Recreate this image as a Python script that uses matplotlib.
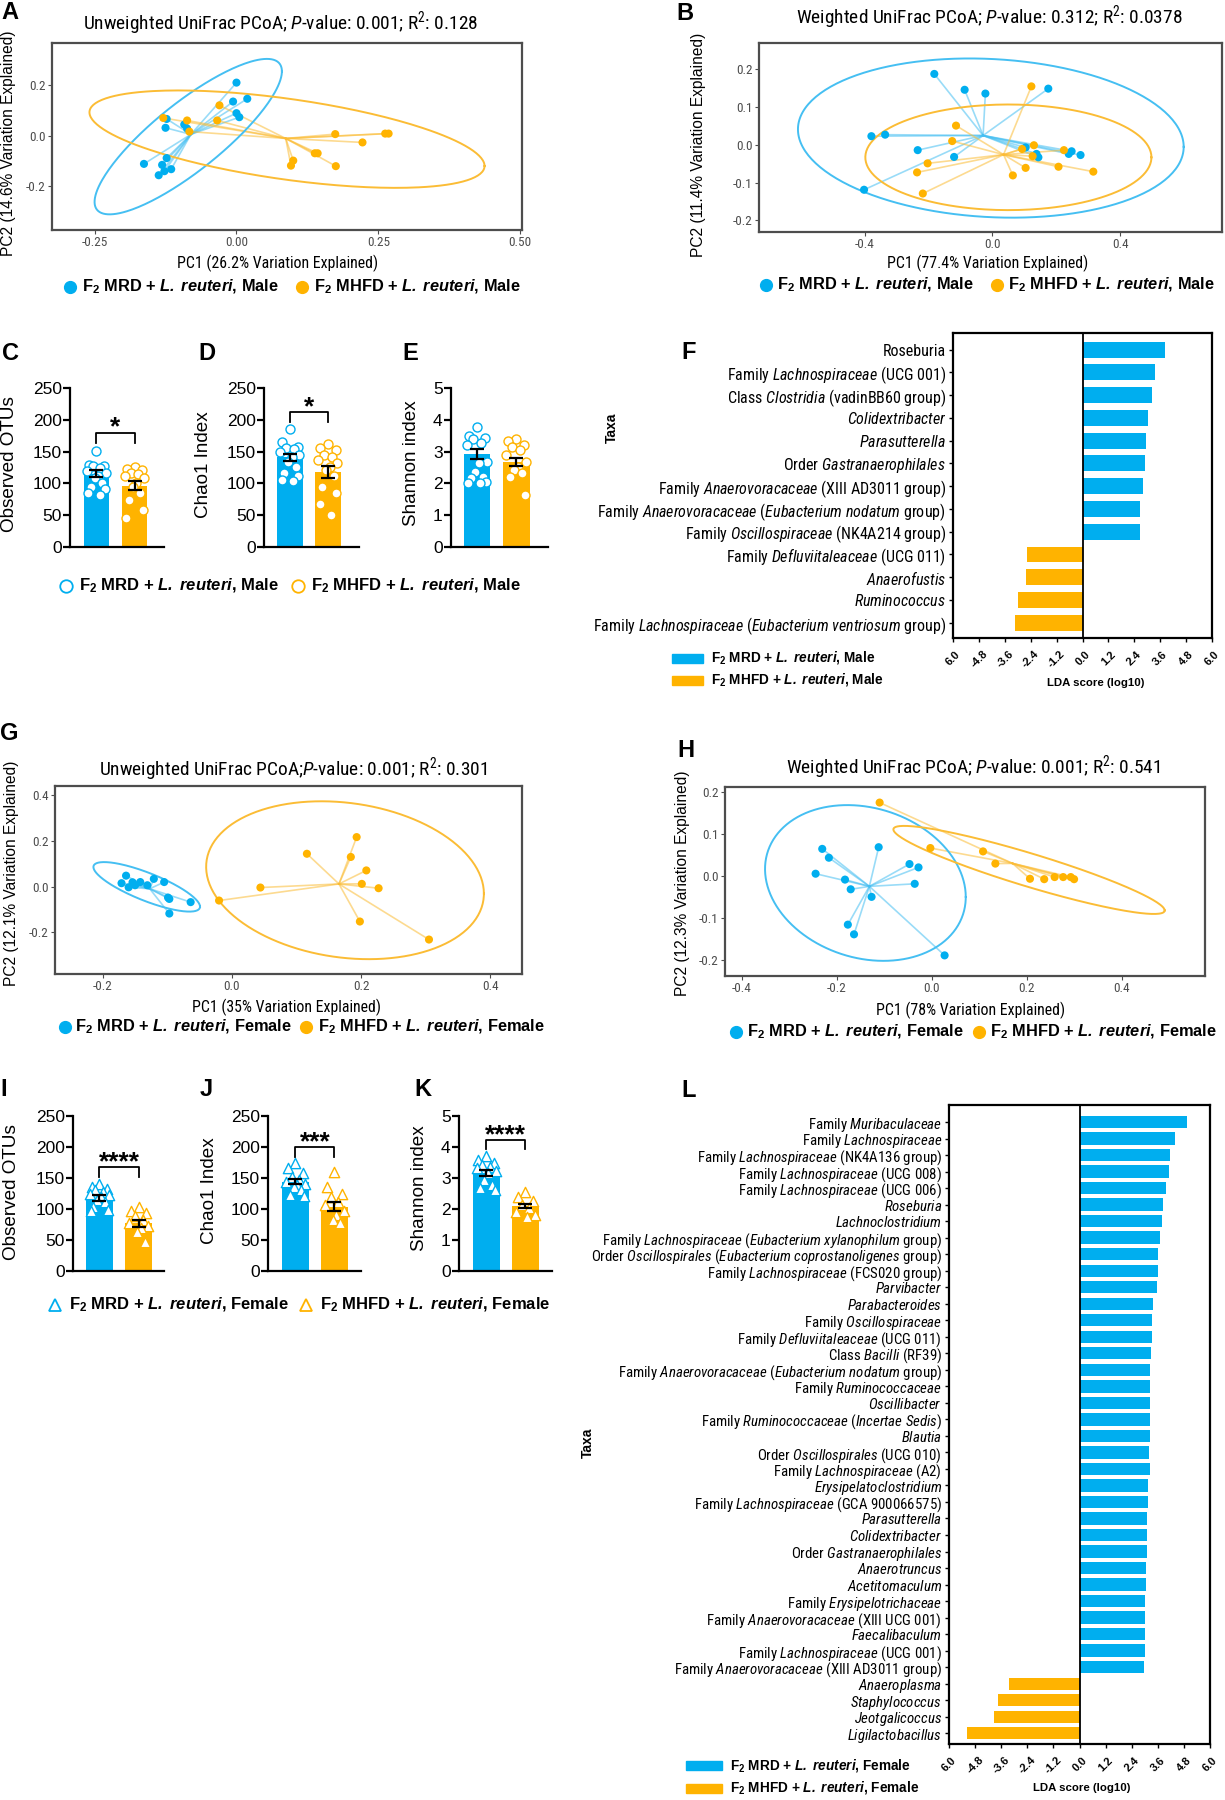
import numpy as np
import matplotlib.pyplot as plt
from matplotlib import font_manager
from matplotlib.patches import Rectangle
from matplotlib.ticker import FormatStrFormatter

W, H = 1225, 1800

# narrow font for ggplot / LEfSe texts, fall back to regular if missing
names = {f.name for f in font_manager.fontManager.ttflist}
if 'Liberation Sans Narrow' in names:
    NF, K = 'Liberation Sans Narrow', 1.0
elif 'Roboto Condensed' in names:
    NF, K = 'Roboto Condensed', 0.95
else:
    NF, K = 'Liberation Sans', 0.82

plt.rcParams['font.family'] = 'Liberation Sans'
plt.rcParams['axes.unicode_minus'] = False
plt.rcParams['mathtext.fontset'] = 'custom'
plt.rcParams['mathtext.rm'] = NF
plt.rcParams['mathtext.it'] = NF + ':italic'
plt.rcParams['mathtext.bf'] = 'Liberation Sans:italic:bold'
plt.rcParams['mathtext.sf'] = 'Liberation Sans:bold'

BLUE = '#00AEEF'
ORANGE = '#FFB300'
BLUE_L = '#45BFF2'
ORANGE_L = '#FBBC35'

# ---------------- PCoA data (PC1, PC2) ----------------
a_blue_x = [0.0, -0.006, 0.019, 0.0, 0.005, -0.123, -0.125, -0.092, -0.087, -0.123, -0.163, -0.131, -0.115, -0.127, -0.137]
a_blue_y = [0.211, 0.136, 0.147, 0.090, 0.074, 0.067, 0.032, 0.045, 0.029, -0.088, -0.111, -0.115, -0.132, -0.140, -0.156]
a_orange_x = [-0.030, -0.087, -0.034, -0.129, -0.083, 0.174, 0.262, 0.268, 0.222, 0.138, 0.143, 0.100, 0.096, 0.175]
a_orange_y = [0.121, 0.061, 0.061, 0.071, 0.017, 0.007, 0.009, 0.009, -0.026, -0.069, -0.069, -0.098, -0.118, -0.120]

b_blue_x = [-0.182, -0.087, -0.022, 0.175, -0.379, -0.336, -0.234, -0.120, 0.104, 0.138, 0.144, 0.239, 0.248, 0.276, -0.402]
b_blue_y = [0.188, 0.146, 0.136, 0.149, 0.023, 0.027, -0.014, -0.032, -0.007, -0.024, -0.033, -0.024, -0.017, -0.027, -0.119]
b_orange_x = [0.122, -0.114, -0.126, 0.093, 0.130, 0.126, 0.224, -0.203, -0.236, 0.064, 0.104, 0.207, 0.316, -0.218]
b_orange_y = [0.155, 0.051, 0.010, -0.011, -0.001, -0.030, -0.014, -0.049, -0.073, -0.081, -0.061, -0.058, -0.071, -0.129]

g_blue_x = [-0.164, -0.171, -0.154, -0.160, -0.150, -0.142, -0.131, -0.121, -0.105, -0.099, -0.097, -0.064, -0.097]
g_blue_y = [0.048, 0.015, 0.019, -0.003, 0.006, 0.020, 0.006, 0.034, 0.020, -0.048, -0.054, -0.068, -0.118]
g_orange_x = [0.193, 0.116, 0.184, 0.208, 0.201, 0.227, 0.044, -0.020, 0.198, 0.305]
g_orange_y = [0.217, 0.144, 0.130, 0.071, 0.012, -0.007, -0.004, -0.061, -0.153, -0.232]

h_blue_x = [-0.231, -0.217, -0.245, -0.183, -0.171, -0.112, -0.127, -0.047, -0.028, -0.036, -0.177, -0.164, 0.027]
h_blue_y = [0.065, 0.044, 0.006, -0.008, -0.031, 0.069, -0.049, 0.029, 0.021, -0.018, -0.115, -0.138, -0.188]
h_orange_x = [-0.110, -0.003, 0.108, 0.134, 0.207, 0.237, 0.259, 0.277, 0.293, 0.300]
h_orange_y = [0.175, 0.067, 0.059, 0.030, -0.006, -0.007, -0.002, -0.002, -0.002, -0.007]

# ellipses: centre x, centre y, x half-extent, y half-extent, correlation
a_ell = [(-0.085, -0.003, 0.165, 0.308, 0.84), (0.089, -0.013, 0.348, 0.193, -0.55)]
b_ell = [(-0.005, 0.018, 0.604, 0.211, -0.11), (0.050, -0.033, 0.448, 0.140, 0.0)]
g_ell = [(-0.132, -0.001, 0.0825, 0.1085, -0.80), (0.175, 0.028, 0.215, 0.346, -0.17)]
h_ell = [(-0.140, -0.016, 0.2116, 0.185, -0.18), (0.205, 0.015, 0.286, 0.1046, -0.92)]

# ---------------- alpha diversity data ----------------
c_blue = [151, 129, 128, 127, 125, 120, 116, 111, 108, 100, 95, 91, 84, 82]
c_orange = [126, 122, 121, 117, 115, 111, 108, 100, 95, 84, 74, 58, 45]
c_mean, c_sem = [115, 96], [5.5, 7]
d_blue = [185, 166, 158, 155, 154, 150, 145, 142, 134, 126, 116, 111, 105, 103]
d_orange = [162, 155, 153, 145, 142, 137, 132, 126, 121, 111, 95, 84, 68, 50]
d_mean, d_sem = [141, 118], [6, 9]
e_blue = [3.79, 3.49, 3.44, 3.39, 3.26, 3.21, 2.68, 2.63, 2.37, 2.21, 2.16, 2.05, 2.02, 2.00]
e_orange = [3.39, 3.34, 3.21, 3.16, 3.05, 2.89, 2.68, 2.53, 2.42, 2.32, 2.21, 1.63]
e_mean, e_sem = [2.93, 2.68], [0.15, 0.13]
i_blue = [141, 136, 133, 131, 128, 125, 123, 120, 115, 112, 104, 98, 96]
i_orange = [104, 96, 93, 88, 82, 77, 72, 69, 63, 47]
i_mean, i_sem = [118, 77], [4.5, 5.5]
j_blue = [174, 166, 158, 152, 147, 144, 141, 139, 136, 131, 123, 121]
j_orange = [160, 136, 125, 120, 112, 106, 96, 90, 82, 78]
j_mean, j_sem = [144, 104], [4, 7.5]
k_blue = [3.71, 3.58, 3.49, 3.42, 3.37, 3.31, 3.24, 3.15, 2.94, 2.77, 2.67, 2.61]
k_orange = [2.56, 2.40, 2.27, 2.13, 2.02, 1.91, 1.81, 1.75]
k_mean, k_sem = [3.17, 2.10], [0.09, 0.07]

# ---------------- LEfSe data ----------------
f_labels = [
    "Roseburia",
    r"Family $\mathit{Lachnospiraceae}$ (UCG 001)",
    r"Class $\mathit{Clostridia}$ (vadinBB60 group)",
    r"$\mathit{Colidextribacter}$",
    r"$\mathit{Parasutterella}$",
    r"Order $\mathit{Gastranaerophilales}$",
    r"Family $\mathit{Anaerovoracaceae}$ (XIII AD3011 group)",
    r"Family $\mathit{Anaerovoracaceae}$ ($\mathit{Eubacterium}$ $\mathit{nodatum}$ group)",
    r"Family $\mathit{Oscillospiraceae}$ (NK4A214 group)",
    r"Family $\mathit{Defluviitaleaceae}$ (UCG 011)",
    r"$\mathit{Anaerofustis}$",
    r"$\mathit{Ruminococcus}$",
    r"Family $\mathit{Lachnospiraceae}$ ($\mathit{Eubacterium}$ $\mathit{ventriosum}$ group)",
]
f_scores = [3.82, 3.37, 3.23, 3.05, 2.92, 2.88, 2.82, 2.67, 2.65, -2.58, -2.61, -3.01, -3.14]

l_labels = [
    r"Family $\mathit{Muribaculaceae}$",
    r"Family $\mathit{Lachnospiraceae}$",
    r"Family $\mathit{Lachnospiraceae}$ (NK4A136 group)",
    r"Family $\mathit{Lachnospiraceae}$ (UCG 008)",
    r"Family $\mathit{Lachnospiraceae}$ (UCG 006)",
    r"$\mathit{Roseburia}$",
    r"$\mathit{Lachnoclostridium}$",
    r"Family $\mathit{Lachnospiraceae}$ ($\mathit{Eubacterium}$ $\mathit{xylanophilum}$ group)",
    r"Order $\mathit{Oscillospirales}$ ($\mathit{Eubacterium}$ $\mathit{coprostanoligenes}$ group)",
    r"Family $\mathit{Lachnospiraceae}$ (FCS020 group)",
    r"$\mathit{Parvibacter}$",
    r"$\mathit{Parabacteroides}$",
    r"Family $\mathit{Oscillospiraceae}$",
    r"Family $\mathit{Defluviitaleaceae}$ (UCG 011)",
    r"Class $\mathit{Bacilli}$ (RF39)",
    r"Family $\mathit{Anaerovoracaceae}$ ($\mathit{Eubacterium}$ $\mathit{nodatum}$ group)",
    r"Family $\mathit{Ruminococcaceae}$",
    r"$\mathit{Oscillibacter}$",
    r"Family $\mathit{Ruminococcaceae}$ ($\mathit{Incertae}$ $\mathit{Sedis}$)",
    r"$\mathit{Blautia}$",
    r"Order $\mathit{Oscillospirales}$ (UCG 010)",
    r"Family $\mathit{Lachnospiraceae}$ (A2)",
    r"$\mathit{Erysipelatoclostridium}$",
    r"Family $\mathit{Lachnospiraceae}$ (GCA 900066575)",
    r"$\mathit{Parasutterella}$",
    r"$\mathit{Colidextribacter}$",
    r"Order $\mathit{Gastranaerophilales}$",
    r"$\mathit{Anaerotruncus}$",
    r"$\mathit{Acetitomaculum}$",
    r"Family $\mathit{Erysipelotrichaceae}$",
    r"Family $\mathit{Anaerovoracaceae}$ (XIII UCG 001)",
    r"$\mathit{Faecalibaculum}$",
    r"Family $\mathit{Lachnospiraceae}$ (UCG 001)",
    r"Family $\mathit{Anaerovoracaceae}$ (XIII AD3011 group)",
    r"$\mathit{Anaeroplasma}$",
    r"$\mathit{Staphylococcus}$",
    r"$\mathit{Jeotgalicoccus}$",
    r"$\mathit{Ligilactobacillus}$",
]
l_scores = [4.94, 4.37, 4.16, 4.10, 3.98, 3.86, 3.80, 3.71, 3.63, 3.61, 3.57, 3.38, 3.34, 3.32,
            3.28, 3.26, 3.26, 3.24, 3.24, 3.22, 3.20, 3.22, 3.16, 3.14, 3.12, 3.10, 3.10, 3.06,
            3.06, 3.02, 3.02, 3.00, 2.99, 2.95, -3.22, -3.73, -3.92, -5.19]
lda_ticks = [-6.0, -4.8, -3.6, -2.4, -1.2, 0.0, 1.2, 2.4, 3.6, 4.8, 6.0]
lda_ticklabels = ['6.0', '-4.8', '-3.6', '-2.4', '-1.2', '0.0', '1.2', '2.4', '3.6', '4.8', '6.0']

MRD_M = r"$\mathsf{F_2}$ MRD + $\mathbf{L.}$ $\mathbf{reuteri}$, Male"
MHFD_M = r"$\mathsf{F_2}$ MHFD + $\mathbf{L.}$ $\mathbf{reuteri}$, Male"
MRD_F = r"$\mathsf{F_2}$ MRD + $\mathbf{L.}$ $\mathbf{reuteri}$, Female"
MHFD_F = r"$\mathsf{F_2}$ MHFD + $\mathbf{L.}$ $\mathbf{reuteri}$, Female"

fig = plt.figure(figsize=(W / 100, H / 100), dpi=100)


def add_ax(x0, y0, x1, y1):
    return fig.add_axes([x0 / W, 1 - y1 / H, (x1 - x0) / W, (y1 - y0) / H])


def pcoa(box, xlim, ylim, xticks, yticks, fmt, bx, by, ox, oy, ells):
    ax = add_ax(*box)
    t = np.linspace(0, 2 * np.pi, 240)
    for xs, ys, ell, lcol in [(bx, by, ells[0], BLUE_L), (ox, oy, ells[1], ORANGE_L)]:
        xs, ys = np.asarray(xs), np.asarray(ys)
        cx, cy = xs.mean(), ys.mean()
        for x, y in zip(xs, ys):
            ax.plot([cx, x], [cy, y], color=lcol, lw=1.2, alpha=0.55, zorder=1)
        ex, ey, rx, ry, rho = ell
        ax.plot(ex + rx * np.cos(t),
                ey + ry * (rho * np.cos(t) + np.sqrt(1 - rho ** 2) * np.sin(t)),
                color=lcol, lw=1.4, zorder=2)
    ax.scatter(bx, by, s=34, color=BLUE, edgecolors='none', zorder=3)
    ax.scatter(ox, oy, s=34, color=ORANGE, edgecolors='none', zorder=3)
    ax.set_xlim(xlim)
    ax.set_ylim(ylim)
    ax.set_xticks(xticks)
    ax.set_yticks(yticks)
    ax.xaxis.set_major_formatter(FormatStrFormatter(fmt))
    ax.yaxis.set_major_formatter(FormatStrFormatter('%.1f'))
    for s in ax.spines.values():
        s.set_color('#4d4d4d')
        s.set_linewidth(1.6)
    ax.tick_params(length=3, width=0.8, color='#4d4d4d', labelcolor='#4d4d4d',
                   labelsize=10 * K, pad=1.5)
    for lab in ax.get_xticklabels() + ax.get_yticklabels():
        lab.set_family(NF)
    return ax


def bar_panel(box, xlim, vb, vo, means, sems, ytop, ystep, marker, msize, sig, sig_y, drop):
    ax = add_ax(*box)
    ax.bar([0, 1], means, width=0.68, color=[BLUE, ORANGE], zorder=1)
    jit = np.array([0.0, -0.2, 0.2, -0.1, 0.1, -0.25, 0.25, 0.05, -0.05, 0.15, -0.15, 0.22, -0.22, 0.08])
    ax.scatter(0 + jit[:len(vb)], vb, s=msize, marker=marker, facecolors='white',
               edgecolors=BLUE, linewidths=1.0, zorder=2, clip_on=False)
    ax.scatter(1 + jit[:len(vo)], vo, s=msize, marker=marker, facecolors='white',
               edgecolors=ORANGE, linewidths=1.0, zorder=2, clip_on=False)
    ax.errorbar([0, 1], means, yerr=sems, fmt='none', ecolor='black', elinewidth=1.6,
                capsize=5, capthick=1.6, zorder=4)
    if sig:
        ax.plot([0, 0, 1, 1], [sig_y - drop, sig_y, sig_y, sig_y - drop], color='black', lw=1.3)
        ax.annotate(sig, (0.5, sig_y), xytext=(0, -1.5), textcoords='offset points',
                    ha='center', va='baseline', fontsize=19, fontweight='bold')
    ax.set_xlim(xlim)
    ax.set_ylim(0, ytop)
    ax.set_yticks(np.arange(0, ytop + ystep / 2, ystep))
    ax.set_xticks([])
    for side in ['top', 'right']:
        ax.spines[side].set_visible(False)
    for side in ['left', 'bottom']:
        ax.spines[side].set_linewidth(1.6)
    ax.tick_params(axis='y', length=5, width=1.6, labelsize=12.5, pad=1)
    ax.patch.set_alpha(0)
    return ax


def lda_panel(box, labels, scores, fs, bar_h, pad_top, pad_bot):
    ax = add_ax(*box)
    n = len(scores)
    cols = [BLUE if s > 0 else ORANGE for s in scores]
    ax.barh(np.arange(n), scores, height=bar_h, color=cols, zorder=2)
    ax.axvline(0, color='black', lw=1.3, zorder=3)
    ax.set_xlim(-6, 6)
    ax.set_ylim(n - 1 + pad_bot, -pad_top)
    ax.set_yticks(np.arange(n))
    ax.set_yticklabels(labels, family=NF, fontsize=fs)
    ax.set_xticks(lda_ticks)
    ax.set_xticklabels(lda_ticklabels, rotation=45, ha='center', fontsize=8, fontweight='bold')
    ax.tick_params(axis='y', length=3, width=1.0, pad=2)
    ax.tick_params(axis='x', length=3, width=1.0, pad=5)
    for s in ax.spines.values():
        s.set_linewidth(1.6)
    return ax


# ---------------- panels ----------------
pcoa((52, 43, 522, 230), (-0.325, 0.503), (-0.373, 0.368), [-0.25, 0, 0.25, 0.5], [-0.2, 0, 0.2],
     '%.2f', a_blue_x, a_blue_y, a_orange_x, a_orange_y, a_ell)
pcoa((759, 43, 1222, 232), (-0.731, 0.719), (-0.231, 0.270), [-0.4, 0, 0.4],
     [-0.2, -0.1, 0, 0.1, 0.2], '%.1f', b_blue_x, b_blue_y, b_orange_x, b_orange_y, b_ell)
pcoa((55, 786, 522, 974), (-0.274, 0.449), (-0.383, 0.441), [-0.2, 0, 0.2, 0.4], [-0.2, 0, 0.2, 0.4],
     '%.1f', g_blue_x, g_blue_y, g_orange_x, g_orange_y, g_ell)
pcoa((725, 787, 1205, 976), (-0.436, 0.576), (-0.237, 0.212), [-0.4, -0.2, 0, 0.2, 0.4],
     [-0.2, -0.1, 0, 0.1, 0.2], '%.1f', h_blue_x, h_blue_y, h_orange_x, h_orange_y, h_ell)

bar_panel((70, 388.3, 164, 546.7), (-0.697, 1.776), c_blue, c_orange, c_mean, c_sem, 250, 50,
          'o', 42, '*', 180, 16)
bar_panel((264, 388.3, 359, 546.7), (-0.684, 1.816), d_blue, d_orange, d_mean, d_sem, 250, 50,
          'o', 42, '*', 213, 16)
bar_panel((451, 388.3, 548, 546.7), (-0.662, 1.806), e_blue, e_orange, e_mean, e_sem, 5, 1,
          'o', 42, None, 0, 0)
bar_panel((73, 1116, 164, 1271), (-0.672, 1.646), i_blue, i_orange, i_mean, i_sem, 250, 50,
          '^', 55, '****', 167, 15)
bar_panel((268, 1116, 361, 1271), (-0.705, 1.680), j_blue, j_orange, j_mean, j_sem, 250, 50,
          '^', 55, '***', 199.5, 15)
bar_panel((459, 1116, 552, 1271), (-0.698, 1.679), k_blue, k_orange, k_mean, k_sem, 5, 1,
          '^', 55, '****', 4.23, 0.3)

lda_panel((953, 333, 1212, 638), f_labels, f_scores, 12.1 * K, 0.70, 0.73, 0.67)
lda_panel((949, 1105, 1210, 1744), l_labels, l_scores, 11.3 * K, 0.75, 1.03, 0.65)

# ---------------- overlay: titles, labels, legends, letters ----------------
ov = fig.add_axes([0, 0, 1, 1], zorder=10)
ov.set_xlim(0, W)
ov.set_ylim(H, 0)
ov.axis('off')

titles = [
    (281, 23, r"Unweighted UniFrac PCoA; $\mathit{P}$-value: 0.001; R$^2$: 0.128"),
    (989, 17, r"Weighted UniFrac PCoA; $\mathit{P}$-value: 0.312; R$^2$: 0.0378"),
    (293, 769, r"Unweighted UniFrac PCoA;$\mathit{P}$-value: 0.001; R$^2$: 0.301"),
    (973, 767, r"Weighted UniFrac PCoA; $\mathit{P}$-value: 0.001; R$^2$: 0.541"),
]
for x, y, s in titles:
    ov.text(x, y, s, ha='center', va='center', family=NF, fontsize=14.7 * K)

xlabels = [(278, 263, "PC1 (26.2% Variation Explained)"), (988, 263, "PC1 (77.4% Variation Explained)"),
           (287, 1007, "PC1 (35% Variation Explained)"), (971, 1010, "PC1 (78% Variation Explained)")]
for x, y, s in xlabels:
    ov.text(x, y, s, ha='center', va='center', family=NF, fontsize=12 * K)

ylabels = [(9, 143, "PC2 (14.6% Variation Explained)"), (698, 145, "PC2 (11.4% Variation Explained)"),
           (12, 873, "PC2 (12.1% Variation Explained)"), (683, 883, "PC2 (12.3% Variation Explained)")]
for x, y, s in ylabels:
    ov.text(x, y, s, ha='center', va='center', rotation=90, fontsize=11.2)

bar_ylabels = [(10, 464, "Observed OTUs"), (204, 465, "Chao1 Index"), (412, 463, "Shannon index"),
               (12, 1192, "Observed OTUs"), (210, 1191, "Chao1 Index"), (419, 1188, "Shannon index")]
for x, y, s in bar_ylabels:
    ov.text(x, y, s, ha='center', va='center', rotation=90, fontsize=13.6)

# dot legends of PCoA panels
dot_legends = [
    (287, [(70, 82, BLUE, MRD_M), (302, 314, ORANGE, MHFD_M)]),
    (285, [(766, 777, BLUE, MRD_M), (997, 1008, ORANGE, MHFD_M)]),
    (1027, [(65, 75, BLUE, MRD_F), (306, 318, ORANGE, MHFD_F)]),
    (1032, [(736, 747, BLUE, MRD_F), (979, 990, ORANGE, MHFD_F)]),
]
for y, items in dot_legends:
    for xm, xt, col, s in items:
        ov.plot([xm], [y], marker='o', ms=8.5, color=col, ls='none')
        ov.text(xt, y, s, ha='left', va='center', fontsize=11.8, fontweight='bold')

# open-marker legends of bar panels
open_legends = [
    (586, 'o', [(66, 79, BLUE, MRD_M), (298, 311, ORANGE, MHFD_M)]),
    (1305, '^', [(55, 69, BLUE, MRD_F), (306, 320, ORANGE, MHFD_F)]),
]
for y, mk, items in open_legends:
    for xm, xt, col, s in items:
        ov.plot([xm], [y], marker=mk, ms=9, mfc='white', mec=col, mew=1.3, ls='none')
        ov.text(xt, y, s, ha='left', va='center', fontsize=12, fontweight='bold')

# LEfSe legends and labels
patch_legends = [
    (672, 711, [(658, BLUE, MRD_M), (680, ORANGE, MHFD_M)]),
    (686, 730, [(1765, BLUE, MRD_F), (1788, ORANGE, MHFD_F)]),
]
for x0, xt, items in patch_legends:
    for y, col, s in items:
        ov.add_patch(Rectangle((x0, y - 4.5), xt - x0 - 8, 9, color=col))
        ov.text(xt, y, s, ha='left', va='center', fontsize=9.8, fontweight='bold')

for x, y in [(612, 428), (588, 1443)]:
    ov.text(x, y, "Taxa", ha='center', va='center', rotation=90, fontsize=10, fontweight='bold')
for x, y in [(1096, 683), (1082, 1788)]:
    ov.text(x, y, "LDA score (log10)", ha='center', va='center', fontsize=8.2, fontweight='bold')

letters = [('A', 1, 1), ('B', 676, 2), ('C', 2, 342), ('D', 198, 342), ('E', 402, 342),
           ('F', 681, 341), ('G', 0, 722), ('H', 677, 739), ('I', 0, 1078), ('J', 200, 1078),
           ('K', 414, 1078), ('L', 681, 1079)]
for s, x, y in letters:
    ov.text(x, y, s, ha='left', va='top', fontsize=17, fontweight='bold')

fig.savefig('out.png', dpi=100)
